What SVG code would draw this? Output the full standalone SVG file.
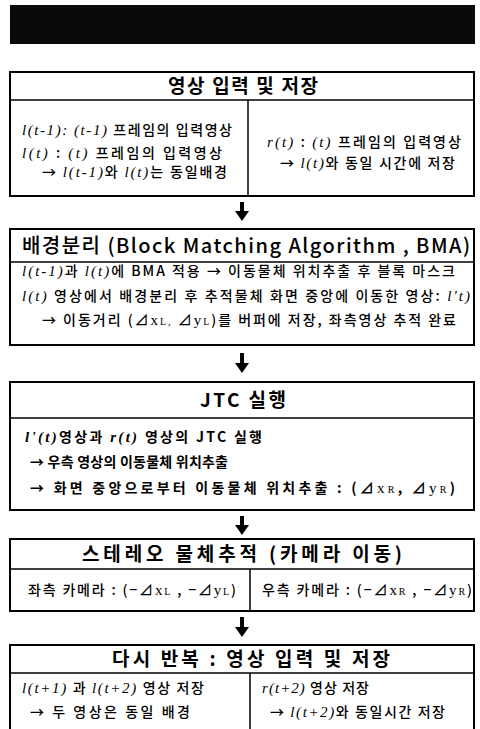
<svg xmlns="http://www.w3.org/2000/svg" width="480" height="729" viewBox="0 0 480 729">
<style>
.box{fill:#fff;stroke:#000;stroke-width:2}
.ln{stroke:#000;stroke-width:1.5;fill:none}
.t{font-family:"Noto Sans CJK KR","Noto Sans",sans-serif;font-size:14px;font-weight:500;fill:#000}
.h{font-family:"Noto Sans CJK KR","Noto Sans",sans-serif;font-size:19px;font-weight:bold;fill:#000}
.b{font-weight:bold}
.m{font-family:"Liberation Serif",serif;font-style:italic;font-size:15px;font-weight:normal}
.s{font-family:"Liberation Serif",serif;font-size:15px;font-weight:normal}
.sub{font-family:"Liberation Serif",serif;font-size:10px;font-weight:normal}
.arr{stroke:#000;stroke-width:4;marker-end:url(#ah)}
</style>
<defs>
<marker id="ah" markerUnits="userSpaceOnUse" markerWidth="10" markerHeight="14" viewBox="0 0 10 14" refX="0" refY="7" orient="auto">
<path d="M0,0 L10,7 L0,14 z" fill="#000"/>
</marker>
</defs>
<rect x="10" y="5" width="465" height="39" fill="#0a0a0a"/>

<g id="n1">
<rect class="box" x="10" y="72" width="464" height="124"/>
<line class="ln" x1="10" y1="100" x2="474" y2="100"/>
<line class="ln" x1="248" y1="100" x2="248" y2="196"/>
<text class="h" x="243" y="93" text-anchor="middle" textLength="150" lengthAdjust="spacing">영상 입력 및 저장</text>
<text class="t" x="22" y="135" textLength="210" lengthAdjust="spacing"><tspan class="m">l(t-1): (t-1)</tspan> 프레임의 입력영상</text>
<text class="t" x="22" y="158" textLength="200" lengthAdjust="spacing"><tspan class="m">l(t)</tspan>  : <tspan class="m">(t)</tspan>  프레임의 입력영상</text>
<text class="t" x="42" y="177" textLength="185" lengthAdjust="spacing">→ <tspan class="m">l(t-1)</tspan>와 <tspan class="m">l(t)</tspan>는 동일배경</text>
<text class="t" x="267" y="147" textLength="194" lengthAdjust="spacing"><tspan class="m">r(t)</tspan> : <tspan class="m">(t)</tspan> 프레임의 입력영상</text>
<text class="t" x="280" y="168" textLength="175" lengthAdjust="spacing">→ <tspan class="m">l(t)</tspan>와 동일 시간에 저장</text>
</g>

<g id="n2">
<rect class="box" x="10" y="229" width="464" height="116"/>
<line class="ln" x1="10" y1="262" x2="474" y2="262"/>
<text class="h" x="22" y="253" style="font-weight:500;font-size:20px" textLength="448" lengthAdjust="spacing">배경분리 (Block Matching Algorithm , BMA)</text>
<text class="t" x="22" y="276" textLength="433" lengthAdjust="spacing"><tspan class="m">l(t-1)</tspan>과 <tspan class="m">l(t)</tspan>에 BMA 적용 → 이동물체 위치추출 후 블록 마스크</text>
<text class="t" x="22" y="301" textLength="448" lengthAdjust="spacing"><tspan class="m">l(t)</tspan> 영상에서 배경분리 후 추적물체 화면 중앙에 이동한 영상: <tspan class="m">l't)</tspan></text>
<text class="t" x="42" y="325" textLength="414" lengthAdjust="spacing">→ 이동거리 (⊿<tspan class="s">x</tspan><tspan class="sub">L,</tspan> ⊿<tspan class="s">y</tspan><tspan class="sub">L</tspan>)를 버퍼에 저장, 좌측영상 추적 완료</text>
</g>

<g id="n3">
<rect class="box" x="10" y="382" width="464" height="128"/>
<line class="ln" x1="10" y1="418" x2="474" y2="418"/>
<text class="h" x="243" y="407" text-anchor="middle" textLength="86" lengthAdjust="spacing">JTC 실행</text>
<text class="t b" x="25" y="442" textLength="237" lengthAdjust="spacing"><tspan class="m" style="font-weight:bold">l'(t)</tspan>영상과 <tspan class="m" style="font-weight:bold">r(t)</tspan> 영상의 JTC 실행</text>
<text class="t b" x="30" y="467" textLength="198" lengthAdjust="spacing">→ 우측 영상의 이동물체 위치추출</text>
<text class="t b" x="30" y="493" textLength="425" lengthAdjust="spacing">→ 화면 중앙으로부터 이동물체 위치추출 : (⊿<tspan class="s">x</tspan><tspan class="sub">R</tspan>, ⊿<tspan class="s">y</tspan><tspan class="sub">R</tspan>)</text>
</g>

<g id="n4">
<rect class="box" x="10" y="539" width="464" height="72"/>
<line class="ln" x1="10" y1="569" x2="474" y2="569"/>
<line class="ln" x1="250" y1="569" x2="250" y2="611"/>
<text class="h" x="242" y="561" text-anchor="middle" textLength="320" lengthAdjust="spacing">스테레오 물체추적 (카메라 이동)</text>
<text class="t" x="28" y="595" textLength="208" lengthAdjust="spacing">좌측 카메라 : (−⊿<tspan class="s">x</tspan><tspan class="sub">L</tspan> , −⊿<tspan class="s">y</tspan><tspan class="sub">L</tspan>)</text>
<text class="t" x="262" y="595" textLength="210" lengthAdjust="spacing">우측 카메라 : (−⊿<tspan class="s">x</tspan><tspan class="sub">R</tspan> , −⊿<tspan class="s">y</tspan><tspan class="sub">R</tspan>)</text>
</g>

<g id="n5">
<path class="box" d="M10,740 V645 H474 V740"/>
<line class="ln" x1="10" y1="673" x2="474" y2="673"/>
<line class="ln" x1="250" y1="673" x2="250" y2="729"/>
<text class="h" x="251" y="666" text-anchor="middle" textLength="278" lengthAdjust="spacing">다시 반복 : 영상 입력 및 저장</text>
<text class="t" x="22" y="693" textLength="182" lengthAdjust="spacing"><tspan class="m">l(t+1)</tspan> 과 <tspan class="m">l(t+2)</tspan> 영상 저장</text>
<text class="t" x="30" y="717" textLength="160" lengthAdjust="spacing">→ 두 영상은 동일 배경</text>
<text class="t" x="262" y="693" textLength="107" lengthAdjust="spacing"><tspan class="m">r(t+2)</tspan> 영상 저장</text>
<text class="t" x="270" y="717" textLength="175" lengthAdjust="spacing">→ <tspan class="m">l(t+2)</tspan>와 동일시간 저장</text>
</g>

<g id="connectors">
<line class="arr" x1="242" y1="202" x2="242" y2="211"/>
<line class="arr" x1="242" y1="353" x2="242" y2="363"/>
<line class="arr" x1="242" y1="516" x2="242" y2="525"/>
<line class="arr" x1="242" y1="617" x2="242" y2="627"/>
</g>
</svg>
